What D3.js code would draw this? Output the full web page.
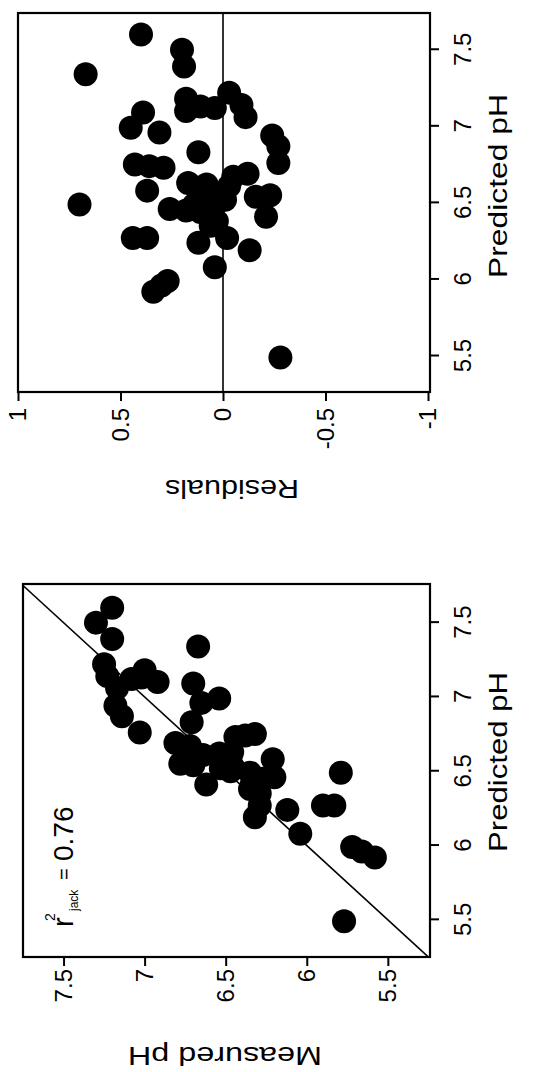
<!DOCTYPE html>
<html>
<head>
<meta charset="utf-8">
<script src="https://cdn.jsdelivr.net/npm/d3@7"></script>
<style>
  body { margin: 0; background: #fff; }
  svg text { font-family: "Liberation Sans", Arial, Helvetica, sans-serif; fill: #000; }
  .axis path.domain { display: none; }
  .axis line { stroke: #000; stroke-width: 2; }
  .axis text { font-size: 24px; }
  .frame { fill: none; stroke: #000; stroke-width: 2.2; }
  .ref { stroke: #000; stroke-width: 1.6; fill: none; }
  .dot { fill: #000; }
</style>
</head>
<body>
<div class="chart"></div>
<script>
// values, one entry per sample
const predicted = [7.60, 7.34, 7.50, 7.39, 7.18, 7.10, 7.13, 7.12, 7.22, 7.14,
                   7.06, 6.94, 6.87, 6.76, 6.83, 7.09, 6.99, 6.96, 6.75, 6.74,
                   6.73, 6.58, 6.49, 6.63, 6.57, 6.52, 6.46, 6.49, 6.41, 6.35,
                   6.52, 6.67, 6.69, 6.61, 6.54, 6.55, 6.41, 6.27, 6.27, 6.24,
                   6.27, 6.19, 6.08, 5.99, 5.96, 5.92, 5.49, 6.50, 6.44, 6.60,
                   6.38, 6.56, 6.62, 6.45];
const measured  = [7.20, 6.67, 7.30, 7.20, 7.00, 6.92, 7.02, 7.08, 7.25, 7.23,
                   7.17, 7.18, 7.14, 7.03, 6.71, 6.70, 6.54, 6.65, 6.32, 6.38,
                   6.44, 6.21, 5.79, 6.46, 6.47, 6.45, 6.20, 6.35, 6.34, 6.29,
                   6.53, 6.72, 6.81, 6.64, 6.70, 6.78, 6.62, 5.83, 5.90, 6.12,
                   6.29, 6.32, 6.04, 5.72, 5.66, 5.58, 5.77, 6.47, 6.33, 6.47,
                   6.35, 6.52, 6.54, 6.27];
const residuals = [0.40, 0.67, 0.20, 0.19, 0.18, 0.18, 0.11, 0.04, -0.03, -0.09,
                   -0.11, -0.24, -0.27, -0.27, 0.12, 0.39, 0.45, 0.31, 0.43, 0.36,
                   0.29, 0.37, 0.70, 0.17, 0.10, 0.07, 0.26, 0.14, 0.07, 0.06,
                   -0.01, -0.05, -0.12, -0.03, -0.16, -0.23, -0.21, 0.44, 0.37, 0.12,
                   -0.02, -0.13, 0.04, 0.27, 0.30, 0.34, -0.28, 0.03, 0.11, 0.13,
                   0.03, 0.04, 0.08, 0.18];

const predTicks = [5.5, 6, 6.5, 7, 7.5];
const measTicks = [5.5, 6, 6.5, 7, 7.5];
const residTicks = [-1, -0.5, 0, 0.5, 1];
const oneToOne = [5, 8];
const zeroLine = [5, 8];

// the whole figure is laid out flat, then turned a quarter turn
const W = 1072;
const H = 539;

const svg = d3.select(".chart").append("svg")
  .attr("width", H)
  .attr("height", W);

svg.append("rect").attr("width", H).attr("height", W).attr("fill", "#fff");

const fig = svg.append("g")
  .attr("transform", "translate(0," + W + ") rotate(-90)");

const points = predicted.map(function(p, i){
  return {pred: p, meas: measured[i], res: residuals[i]};
});

const fmt = function(d){ return String(d); };

// ---- left panel: measured vs predicted
const fit = {left: 115, right: 488, top: 23, bottom: 430};
const xFit = d3.scaleLinear().domain([5.25, 7.76]).range([fit.left, fit.right]);
const yFit = d3.scaleLinear().domain([5.24, 7.75]).range([fit.bottom, fit.top]);

fig.append("clipPath").attr("id", "clipFit")
  .append("rect")
  .attr("x", fit.left).attr("y", fit.top)
  .attr("width", fit.right - fit.left).attr("height", fit.bottom - fit.top);

fig.append("path")
  .datum(oneToOne)
  .classed("ref", true)
  .attr("clip-path", "url(#clipFit)")
  .attr("d", d3.line().x(function(d){ return xFit(d); }).y(function(d){ return yFit(d); }));

fig.append("g").attr("clip-path", "url(#clipFit)")
  .selectAll(".dot")
  .data(points)
  .enter()
    .append("circle")
    .classed("dot", true)
    .attr("cx", function(d){ return xFit(d.pred); })
    .attr("cy", function(d){ return yFit(d.meas); })
    .attr("r", 12);

fig.append("g")
  .classed("axis", true)
  .attr("transform", "translate(0," + fit.bottom + ")")
  .call(d3.axisBottom(xFit).tickValues(predTicks).tickFormat(fmt).tickSize(9).tickPadding(15));

fig.append("g")
  .classed("axis", true)
  .attr("transform", "translate(" + fit.left + ",0)")
  .call(d3.axisLeft(yFit).tickValues(measTicks).tickFormat(fmt).tickSize(9).tickPadding(3));

fig.append("rect")
  .classed("frame", true)
  .attr("x", fit.left).attr("y", fit.top)
  .attr("width", fit.right - fit.left).attr("height", fit.bottom - fit.top);

fig.append("text")
  .attr("x", 310).attr("y", 507)
  .style("font-size", "26px")
  .style("text-anchor", "middle")
  .attr("textLength", 180)
  .attr("lengthAdjust", "spacingAndGlyphs")
  .text("Predicted pH");

fig.append("text")
  .attr("transform", "translate(25,225) rotate(-90)")
  .style("font-size", "26px")
  .style("text-anchor", "middle")
  .attr("textLength", 194)
  .attr("lengthAdjust", "spacingAndGlyphs")
  .text("Measured pH");

// r2 label
fig.append("text").attr("x", 145).attr("y", 73).style("font-size", "29px").text("r");
fig.append("text").attr("x", 151).attr("y", 55).style("font-size", "14px").text("2");
fig.append("text").attr("x", 161).attr("y", 78).style("font-size", "12px").text("jack");
fig.append("text").attr("x", 192).attr("y", 71).style("font-size", "20px").text("=");
fig.append("text").attr("x", 211).attr("y", 73).style("font-size", "28px").text("0.76");

// ---- right panel: residuals vs predicted
const rp = {left: 680, right: 1059, top: 18, bottom: 430};
const xRes = d3.scaleLinear().domain([5.265, 7.74]).range([rp.left, rp.right]);
const yRes = d3.scaleLinear().domain([-1, 1]).range([428, rp.top]);

fig.append("path")
  .datum(zeroLine)
  .classed("ref", true)
  .attr("d", d3.line()
    .x(function(d){ return xRes(Math.max(5.265, Math.min(7.74, d))); })
    .y(function(){ return yRes(0); }));

fig.append("g")
  .selectAll(".dot")
  .data(points)
  .enter()
    .append("circle")
    .classed("dot", true)
    .attr("cx", function(d){ return xRes(d.pred); })
    .attr("cy", function(d){ return yRes(d.res); })
    .attr("r", 12);

fig.append("g")
  .classed("axis", true)
  .attr("transform", "translate(0," + rp.bottom + ")")
  .call(d3.axisBottom(xRes).tickValues(predTicks).tickFormat(fmt).tickSize(9).tickPadding(15));

fig.append("g")
  .classed("axis", true)
  .attr("transform", "translate(" + rp.left + ",0)")
  .call(d3.axisLeft(yRes).tickValues(residTicks).tickFormat(fmt).tickSize(9).tickPadding(7));

fig.append("rect")
  .classed("frame", true)
  .attr("x", rp.left).attr("y", rp.top)
  .attr("width", rp.right - rp.left).attr("height", rp.bottom - rp.top);

fig.append("text")
  .attr("x", 886).attr("y", 507)
  .style("font-size", "26px")
  .style("text-anchor", "middle")
  .attr("textLength", 184)
  .attr("lengthAdjust", "spacingAndGlyphs")
  .text("Predicted pH");

fig.append("text")
  .attr("transform", "translate(592,232) rotate(-90)")
  .style("font-size", "26px")
  .style("text-anchor", "middle")
  .attr("textLength", 134)
  .attr("lengthAdjust", "spacingAndGlyphs")
  .text("Residuals");
</script>
</body>
</html>
